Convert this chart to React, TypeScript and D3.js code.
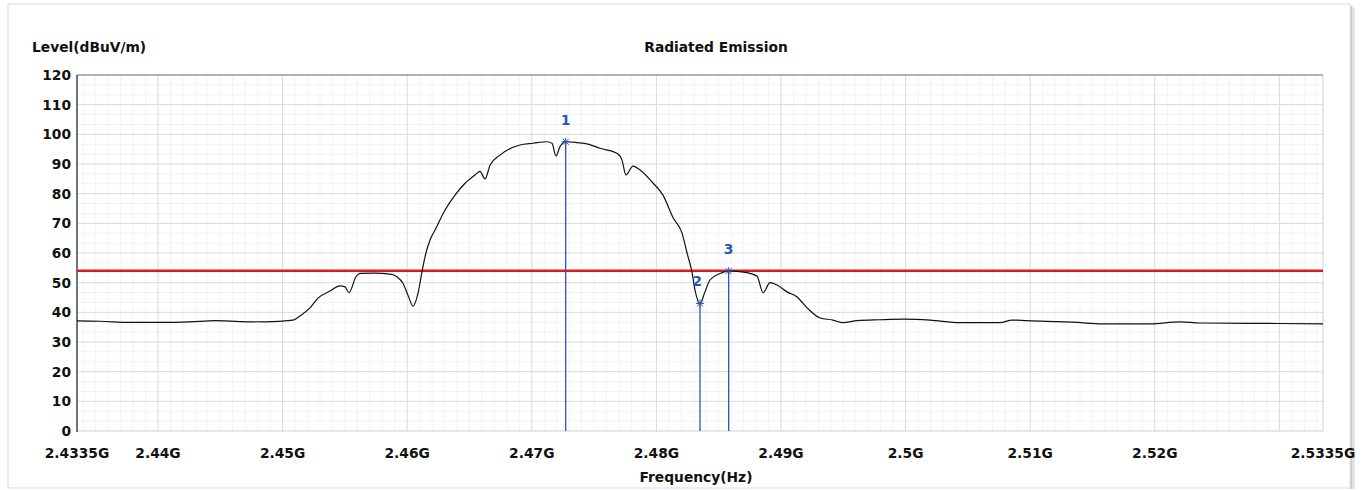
import React from "react";
import * as d3 from "d3";

// ---- data ----
const traceFreqMHz: number[] = [
  2433.5, 2435.35, 2437.75, 2440.16, 2442.57, 2444.58, 2446.58, 2448.59, 2450.84, 2451.4,
  2452.2, 2452.84, 2453.81, 2454.61, 2455.01, 2455.33, 2455.89, 2456.21, 2457.42, 2458.62,
  2459.18, 2459.66, 2460.06, 2460.47, 2460.87, 2461.19, 2461.43, 2461.83, 2462.23, 2463.04,
  2463.84, 2464.64, 2465.44, 2465.84, 2466.25, 2466.65, 2467.45, 2469.05, 2470.1, 2471.22,
  2471.62, 2471.94, 2472.26, 2472.72, 2473.63, 2474.51, 2475.47, 2476.92, 2477.24, 2477.56,
  2478.12, 2478.69, 2479.73, 2480.53, 2481.33, 2482.06, 2482.46, 2482.86, 2483.1, 2483.5,
  2483.9, 2484.3, 2485.11, 2485.8, 2487.27, 2488.08, 2488.56, 2489.12, 2489.68, 2490.48,
  2491.29, 2492.09, 2493.13, 2494.17, 2494.98, 2496.1, 2497.95, 2499.95, 2501.96, 2504.37,
  2507.58, 2508.54, 2509.74, 2513.76, 2515.76, 2519.62, 2522.02, 2523.63, 2527.64, 2533.5,
];
const traceLevel: number[] = [
  37.1, 37.0, 36.6, 36.6, 36.8, 37.2, 36.9, 36.8, 37.4, 38.8,
  41.5, 44.8, 47.2, 48.9, 48.6, 46.6, 52.0, 53.1, 53.2, 52.9,
  52.0, 49.8, 45.8, 42.1, 46.5, 53.7, 58.7, 64.4, 67.7, 74.5,
  79.5, 83.5, 86.3, 87.5, 85.0, 89.6, 93.0, 96.4, 97.0, 97.5,
  97.0, 92.7, 95.8, 97.5, 97.2, 96.7, 95.3, 93.4, 91.3, 86.3,
  89.3, 88.0, 83.6, 79.5, 72.0, 66.7, 60.0, 53.5, 47.5, 43.0,
  46.9, 50.9, 53.1, 53.9, 53.4, 52.2, 46.6, 50.0, 49.2, 46.9,
  45.2, 41.5, 38.1, 37.4, 36.5, 37.2, 37.5, 37.7, 37.4, 36.5,
  36.5, 37.4, 37.2, 36.6, 36.1, 36.1, 36.8, 36.4, 36.3, 36.1,
];
const limitLevel = 54;
const markerIds: string[] = ["1", "2", "3"];
const markerFreqMHz: number[] = [2472.72, 2483.5, 2485.8];
const markerLevel: number[] = [97.5, 43.0, 53.9];

const xTickValues: number[] = [2433.5, 2440, 2450, 2460, 2470, 2480, 2490, 2500, 2510, 2520, 2533.5];
const xTickLabels: string[] = ["2.4335G", "2.44G", "2.45G", "2.46G", "2.47G", "2.48G", "2.49G", "2.5G", "2.51G", "2.52G", "2.5335G"];
const yTickValues: number[] = [0, 10, 20, 30, 40, 50, 60, 70, 80, 90, 100, 110, 120];

const FONT = "'DejaVu Sans', Verdana, sans-serif";

export default function App() {
  const left = 77, right = 1323, top = 75, bottom = 431;
  const x = d3.scaleLinear().domain([2433.5, 2533.5]).range([left, right]);
  const y = d3.scaleLinear().domain([0, 120]).range([bottom, top]);

  const pts: [number, number][] = traceFreqMHz.map((f, i) => [f, traceLevel[i]]);
  const line = d3
    .line<[number, number]>()
    .x((d) => x(d[0]))
    .y((d) => y(d[1]))
    .curve(d3.curveMonotoneX);

  const majorV = d3.range(2440, 2531, 10);
  const minorV = d3.range(2434, 2534, 1).filter((v) => v % 10 !== 0);
  const minorH: number[] = [];
  for (let v = 0; v < 120; v += 10) {
    minorH.push(v + 10 / 3, v + 20 / 3);
  }

  const blue = "#2b55b5";

  return (
    <svg
      width={1370}
      height={490}
      style={{ position: "absolute", left: 0, top: 0, background: "#fff" }}
    >
      {/* outer panel */}
      <rect x={8} y={4} width={1342} height={484} fill="#fff" stroke="#dcdcdc" strokeWidth={1} />
      <line x1={1351.5} y1={6} x2={1351.5} y2={489} stroke="#c8c8c8" strokeWidth={2} />
      <line x1={1354} y1={8} x2={1354} y2={489} stroke="#e6e6e6" strokeWidth={2} />

      {/* minor grid */}
      <g stroke="#f3f3f3" strokeWidth={1}>
        {minorV.map((v) => (
          <line key={"mv" + v} x1={x(v)} x2={x(v)} y1={top} y2={bottom} />
        ))}
        {minorH.map((v, i) => (
          <line key={"mh" + i} x1={left} x2={right} y1={y(v)} y2={y(v)} />
        ))}
      </g>
      {/* major grid */}
      <g stroke="#d9d9d9" strokeWidth={1}>
        {majorV.map((v) => (
          <line key={"v" + v} x1={x(v)} x2={x(v)} y1={top} y2={bottom} />
        ))}
        {yTickValues.slice(1, -1).map((v) => (
          <line key={"h" + v} x1={left} x2={right} y1={y(v)} y2={y(v)} />
        ))}
      </g>

      {/* frame */}
      <line x1={left} x2={right} y1={bottom} y2={bottom} stroke="#cfcfcf" />
      <line x1={right} x2={right} y1={top} y2={bottom} stroke="#cfcfcf" />
      <line x1={left} x2={right} y1={top} y2={top} stroke="#666" strokeWidth={1.2} />
      <line x1={left} x2={left} y1={top} y2={bottom + 1} stroke="#444" strokeWidth={1.5} />

      {/* limit line */}
      <line x1={left} x2={right} y1={y(limitLevel)} y2={y(limitLevel)} stroke="#dd1a1f" strokeWidth={2.5} />

      {/* marker lines */}
      {markerFreqMHz.map((f, i) => (
        <line key={"ml" + i} x1={x(f)} x2={x(f)} y1={y(markerLevel[i])} y2={bottom} stroke={blue} strokeWidth={1.3} />
      ))}

      {/* trace */}
      <path d={line(pts) || ""} fill="none" stroke="#111" strokeWidth={1.2} />

      {/* marker symbols and labels */}
      {markerFreqMHz.map((f, i) => {
        const cx = x(f), cy = y(markerLevel[i]);
        const s = 4;
        return (
          <g key={"mk" + i} stroke={blue} strokeWidth={1}>
            <line x1={cx - s} x2={cx + s} y1={cy} y2={cy} />
            <line x1={cx} x2={cx} y1={cy - s} y2={cy + s} />
            <line x1={cx - 3} x2={cx + 3} y1={cy - 3} y2={cy + 3} />
            <line x1={cx - 3} x2={cx + 3} y1={cy + 3} y2={cy - 3} />
            <text
              x={i === 1 ? cx - 3 : cx}
              y={cy - 17}
              textAnchor="middle"
              fill={blue}
              stroke="none"
              fontFamily={FONT}
              fontWeight="bold"
              fontSize={14}
            >
              {markerIds[i]}
            </text>
          </g>
        );
      })}

      {/* y tick labels */}
      {yTickValues.map((v) => (
        <text
          key={"yt" + v}
          x={71}
          y={y(v) + 5}
          textAnchor="end"
          fontFamily={FONT}
          fontWeight="bold"
          fontSize={13.8}
          fill="#111"
        >
          {v}
        </text>
      ))}

      {/* x tick labels */}
      {xTickValues.map((v, i) => (
        <text
          key={"xt" + v}
          x={x(v)}
          y={458}
          textAnchor="middle"
          fontFamily={FONT}
          fontWeight="bold"
          fontSize={13.8}
          fill="#111"
        >
          {xTickLabels[i]}
        </text>
      ))}

      {/* titles */}
      <text x={32} y={52} fontFamily={FONT} fontWeight="bold" fontSize={13.8} fill="#111">
        Level(dBuV/m)
      </text>
      <text x={716} y={52} textAnchor="middle" fontFamily={FONT} fontWeight="bold" fontSize={13.8} fill="#111">
        Radiated Emission
      </text>
      <text x={696} y={482} textAnchor="middle" fontFamily={FONT} fontWeight="bold" fontSize={13.8} fill="#111">
        Frequency(Hz)
      </text>
    </svg>
  );
}
